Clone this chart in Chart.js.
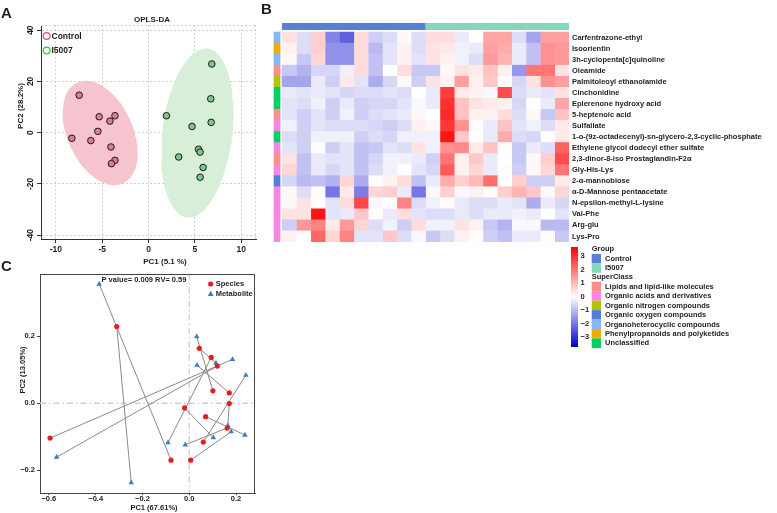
<!DOCTYPE html>
<html>
<head>
<meta charset="utf-8">
<script src="https://cdn.jsdelivr.net/npm/chart.js@4.4.1/dist/chart.umd.min.js"></script>
<style>
  html, body { margin: 0; padding: 0; background: #fff; }
  #wrap { position: relative; width: 777px; height: 513px; overflow: hidden; }
  canvas { position: absolute; }
</style>
</head>
<body>
<div id="wrap">
  <canvas id="chartA" width="262" height="272" style="left:0px;top:0px"></canvas>
  <canvas id="chartB" width="521" height="360" style="left:256px;top:0px"></canvas>
  <canvas id="chartC" width="270" height="257" style="left:0px;top:256px"></canvas>
</div>
<script>
// ---------- panel A: OPLS-DA scores ----------
const controlPC1 = [-7.48, -5.32, -4.16, -3.62, -5.46, -8.27, -6.22, -4.05, -3.62, -4.0];
const controlPC2 = [14.6, 6.2, 4.5, 6.6, 0.5, -2.2, -3.1, -5.6, -10.8, -12.1];
const i5007PC1 = [6.83, 6.72, 6.76, 1.93, 4.70, 3.26, 5.39, 5.57, 5.89, 5.57];
const i5007PC2 = [26.8, 13.2, 4.0, 6.6, 2.4, -9.5, -6.5, -7.6, -13.6, -17.4];

// ---------- panel B: heatmap ----------
const groupNames = ['Control', 'I5007'];
const groupSizes = [10, 10];
const superClassNames = ['Lipids and lipid-like molecules', 'Organic acids and derivatives', 'Organic nitrogen compounds',
  'Organic oxygen compounds', 'Organoheterocyclic compounds', 'Phenylpropanoids and polyketides', 'Unclassified'];
const superClassColors = ['#ff8f86', '#fa84e2', '#b2c300', '#4f7fe0', '#86b6ff', '#f0aa00', '#00d262'];
const metaboliteNames = ['Carfentrazone-ethyl', 'Isoorientin', '3h-cyclopenta[c]quinoline', 'Oleamide',
  'Palmitoleoyl ethanolamide', 'Cinchonidine', 'Eplerenone hydroxy acid', '5-heptenoic acid', 'Sulfallate',
  '1-o-(9z-octadecenyl)-sn-glycero-2,3-cyclic-phosphate', 'Ethylene glycol dodecyl ether sulfate',
  '2,3-dinor-8-iso Prostaglandin-F2\u03b1', 'Gly-His-Lys', '2-\u03b1-mannobiose', '\u03b1-D-Mannose pentaacetate',
  'N-epsilon-methyl-L-lysine', 'Val-Phe', 'Arg-glu', 'Lys-Pro'];
const metaboliteClass = [4, 5, 4, 0, 2, 6, 6, 0, 1, 6, 1, 0, 1, 3, 1, 1, 1, 1, 1];
const heatRows = [
  [0.4, -0.5, 0.7, -1.8, -2.3, 0.5, -0.7, -0.5, 0.1, -0.5, 0.5, 0.5, -0.3, 0.0, 1.3, 1.3, -0.5, -1.3, 1.4, 1.4],
  [0.2, -0.5, 0.7, -1.6, -1.6, 0.5, -1.0, -0.4, 0.2, -0.5, 0.4, 0.3, -0.2, -0.3, 1.4, 1.2, -0.3, -0.9, 1.6, 1.5],
  [0.1, -0.8, 0.6, -1.6, -1.6, 0.5, -0.9, -0.4, 0.2, -0.4, 0.4, 0.2, -0.2, -0.5, 1.5, 1.1, -0.3, -0.9, 1.6, 1.5],
  [-0.8, -1.1, -0.6, -0.6, -0.2, 0.5, -0.9, 0.0, 0.5, -0.8, -0.8, 0.1, 0.4, 0.3, 0.9, 0.2, -1.5, 2.0, 2.0, 0.4],
  [-1.3, -1.3, -0.3, -0.7, 0.3, -0.4, -1.2, -0.6, 0.1, -0.7, 0.4, 0.2, 1.4, 0.2, 0.8, 0.05, -0.6, 0.4, 1.6, 1.4],
  [-0.3, -0.4, -0.3, -0.4, -0.6, -0.5, -0.5, -0.4, -0.5, 0.0, -0.3, 2.8, 0.3, 0.2, -0.1, 2.6, -0.5, -0.3, -0.4, 0.4],
  [-0.4, -0.5, -0.2, -0.7, -0.3, -0.7, -0.6, -0.6, -0.4, -0.1, -0.3, 3.0, 0.9, 0.4, 0.3, 0.2, -0.6, 0.0, -0.3, 1.3],
  [-0.4, -0.7, -0.4, -0.7, -0.2, -0.7, -0.5, -0.4, -0.3, 0.1, 0.0, 3.1, 0.9, 0.2, 0.2, 0.5, -0.5, 0.1, -0.8, 0.9],
  [-0.2, -0.7, -0.4, -0.5, -0.5, -0.5, -0.6, -0.7, -0.5, 0.2, 0.1, 2.9, 1.6, 0.05, -0.3, 0.9, -0.4, -0.2, -0.5, 0.3],
  [-0.5, -0.7, -0.2, -0.2, -0.2, -0.7, -0.5, -0.6, -0.2, -0.2, -0.2, 3.4, 0.8, 0.0, -0.3, 1.2, -0.5, -0.6, 0.0, 0.3],
  [-0.4, -0.7, 0.05, -0.7, -0.4, -0.9, -0.8, -0.4, -0.5, 0.4, -0.2, 1.6, 1.7, 0.3, 0.9, 0.05, -0.8, -0.3, -0.5, 2.3],
  [0.4, -0.9, -0.3, -0.4, -0.4, -0.9, -0.6, -0.2, -0.2, -0.3, -0.7, 2.0, 0.2, 0.8, -0.3, 0.0, -0.8, 0.1, 0.7, 2.6],
  [0.6, -0.9, -0.3, -0.6, -0.4, -0.9, -0.5, -0.2, 0.0, -0.4, -0.6, 2.4, 0.2, 0.6, -0.3, 0.05, -0.7, 0.1, 0.6, 2.0],
  [-0.6, -1.0, -0.9, -1.1, 0.6, -1.2, 0.05, 0.2, 0.5, -0.9, -0.3, 1.2, 0.7, 1.0, 2.1, 0.0, 0.7, -0.7, -0.7, 0.3],
  [0.1, -0.5, 0.05, -2.0, 0.3, -1.9, 0.6, 0.7, -0.3, -2.0, -0.1, 0.7, -0.1, 0.2, 0.05, 0.7, 1.1, 0.8, 0.1, 0.6],
  [0.1, 0.4, 0.0, -0.4, 0.5, 2.7, -0.1, 0.0, 1.8, -0.5, -0.2, 0.05, -0.3, -0.5, -0.5, -0.3, -0.4, -1.2, -0.3, -0.6],
  [0.4, 0.4, 3.4, -0.4, -0.3, 0.8, 0.05, -0.3, 0.5, -0.4, -0.5, -0.5, -0.3, -0.5, -0.3, -0.3, -0.2, -0.3, 0.0, -0.4],
  [-0.7, 1.5, 1.8, 0.3, 1.5, 0.6, -0.5, -0.2, -0.7, 0.5, -0.2, -0.2, 0.4, 0.2, -0.8, -1.1, -0.1, -0.1, -1.0, -1.0],
  [0.2, 0.0, 2.2, 0.6, 1.8, -0.4, -0.4, 0.8, -0.5, -0.1, -0.8, -0.5, 0.2, 0.05, -0.7, -0.9, -0.3, -0.3, 0.05, -0.8]
];
const scaleTicks = [3, 2, 1, 0, -1, -2, -3];

// ---------- panel C: procrustes (sample i = species point i + metabolite point i) ----------
const speciesPC1 = [-0.595, 0.120, -0.078, -0.310, 0.101, 0.043, 0.094, 0.171, 0.171, -0.020, 0.070, 0.162, 0.060, 0.006];
const speciesPC2 = [-0.104, 0.111, -0.170, 0.229, 0.037, 0.164, 0.137, 0.031, -0.001, -0.014, -0.040, -0.074, -0.116, -0.170];
const metabPC1 = [0.185, -0.567, -0.385, -0.248, 0.032, 0.114, -0.091, 0.033, 0.165, 0.103, 0.238, -0.017, 0.242, 0.179];
const metabPC2 = [0.131, -0.161, 0.356, -0.237, 0.199, 0.120, -0.118, 0.114, -0.067, -0.103, -0.095, -0.124, 0.084, -0.085];

const FONT = "'Liberation Sans', Arial, Helvetica, sans-serif";
Chart.defaults.font.family = FONT;
Chart.defaults.color = '#1e1e1e';
Chart.defaults.plugins.legend.display = false;
Chart.defaults.plugins.tooltip.enabled = false;
const font = (size, bold) => (bold ? 'bold ' : '') + size + 'px ' + FONT;

function ellipsePoints(xs, ys, k) {
  const n = xs.length;
  const mx = xs.reduce((a, b) => a + b, 0) / n;
  const my = ys.reduce((a, b) => a + b, 0) / n;
  let sxx = 0, syy = 0, sxy = 0;
  for (let i = 0; i < n; i++) {
    const dx = xs[i] - mx, dy = ys[i] - my;
    sxx += dx * dx; syy += dy * dy; sxy += dx * dy;
  }
  sxx /= n - 1; syy /= n - 1; sxy /= n - 1;
  const l11 = Math.sqrt(sxx), l21 = sxy / l11, l22 = Math.sqrt(syy - l21 * l21);
  const pts = [];
  for (let i = 0; i <= 120; i++) {
    const t = i / 120 * 2 * Math.PI, c = Math.cos(t), s = Math.sin(t);
    pts.push({ x: mx + k * l11 * c, y: my + k * (l21 * c + l22 * s) });
  }
  return pts;
}

function heatColor(v) {
  const t = Math.max(-1, Math.min(1, v / 3.7));
  if (t >= 0) {
    const g = Math.round(255 * (1 - t));
    return 'rgb(255,' + g + ',' + g + ')';
  }
  const s = -t;
  const r = Math.round(255 * (1 - s)), b = Math.round(255 - s * 51);
  return 'rgb(' + r + ',' + r + ',' + b + ')';
}

// ================= A =================
const panelAExtras = {
  id: 'panelAExtras',
  beforeDatasetsDraw(chart) {
    const { ctx, chartArea: a } = chart;
    ctx.save();
    ctx.strokeStyle = '#cfcfcf'; ctx.lineWidth = 1; ctx.setLineDash([2, 2]);
    ctx.beginPath();
    ctx.moveTo(a.left, a.top + 0.5); ctx.lineTo(a.right, a.top + 0.5);
    ctx.moveTo(a.right - 0.5, a.top); ctx.lineTo(a.right - 0.5, a.bottom);
    ctx.stroke();
    ctx.restore();
  },
  afterDraw(chart) {
    const { ctx, scales } = chart;
    ctx.save();
    ctx.fillStyle = '#1e1e1e';
    ctx.textBaseline = 'middle';
    ctx.textAlign = 'center';
    ctx.font = font(8.5, true);
    scales.y.ticks.forEach(t => {
      ctx.save();
      ctx.translate(31, scales.y.getPixelForValue(t.value));
      ctx.rotate(-Math.PI / 2);
      ctx.fillText(String(t.value), 0, 0);
      ctx.restore();
    });
    ctx.font = font(8, true);
    ctx.fillText('OPLS-DA', 152, 20);
    ctx.fillText('PC1 (5.1 %)', 165, 262);
    ctx.save();
    ctx.translate(21, 106); ctx.rotate(-Math.PI / 2);
    ctx.fillText('PC2 (28.2%)', 0, 0);
    ctx.restore();
    // legend
    ctx.textAlign = 'left';
    ctx.font = font(8.5, true);
    [['Control', '#e94b7a', 36], ['I5007', '#3fbe50', 50.5]].forEach(([lab, col, y]) => {
      ctx.beginPath(); ctx.arc(46.7, y, 3.4, 0, 2 * Math.PI);
      ctx.strokeStyle = col; ctx.lineWidth = 1.2; ctx.stroke();
      ctx.fillText(lab, 51.5, y + 0.5);
    });
    ctx.font = font(15, true);
    ctx.fillText('A', 1, 14);
    ctx.restore();
  }
};

new Chart(document.getElementById('chartA'), {
  type: 'scatter',
  data: {
    datasets: [
      { type: 'line', data: ellipsePoints(controlPC1, controlPC2, 2.4477), fill: 'shape', backgroundColor: '#f6c4cf',
        borderColor: 'transparent', borderWidth: 0, pointRadius: 0, tension: 0, order: 3 },
      { type: 'line', data: ellipsePoints(i5007PC1, i5007PC2, 2.4477), fill: 'shape', backgroundColor: '#d7efd9',
        borderColor: 'transparent', borderWidth: 0, pointRadius: 0, tension: 0, order: 3 },
      { data: controlPC1.map((x, i) => ({ x, y: controlPC2[i] })), backgroundColor: '#e27a97', borderColor: '#1a1a1a',
        borderWidth: 1, pointRadius: 3.3, order: 1 },
      { data: i5007PC1.map((x, i) => ({ x, y: i5007PC2[i] })), backgroundColor: '#7dc886', borderColor: '#1a1a1a',
        borderWidth: 1, pointRadius: 3.3, order: 1 }
    ]
  },
  options: {
    responsive: false, animation: false,
    layout: { padding: { top: 25, right: 6, left: 0, bottom: 0 } },
    scales: {
      x: {
        type: 'linear', min: -11.6, max: 11.6,
        ticks: { stepSize: 5, includeBounds: false, font: { size: 8.5, weight: 'bold' }, color: '#1e1e1e', padding: 2 },
        grid: { color: '#cfcfcf', tickColor: '#333', tickLength: 4 },
        border: { color: '#333', width: 1, dash: [2, 2] },
        afterFit(s) { s.height = 33; }
      },
      y: {
        type: 'linear', min: -41.5, max: 42,
        ticks: { stepSize: 20, includeBounds: false, font: { size: 8.5, weight: 'bold' }, color: 'rgba(0,0,0,0)' },
        grid: { color: '#cfcfcf', tickColor: '#333', tickLength: 4 },
        border: { color: '#333', width: 1, dash: [2, 2] },
        afterFit(s) { s.width = 41; }
      }
    }
  },
  plugins: [panelAExtras]
});

// ================= B =================
const nCols = heatRows[0].length;
const heatDatasets = [];
for (let c = 0; c < nCols; c++) {
  heatDatasets.push({
    data: [null].concat(heatRows.map(() => [c, c + 1])),
    backgroundColor: ['rgba(0,0,0,0)'].concat(heatRows.map(r => heatColor(r[c]))),
    grouped: false, barPercentage: 1, categoryPercentage: 1, borderWidth: 0
  });
}
heatDatasets.push({
  data: [null].concat(metaboliteNames.map(() => [-0.56, -0.14])),
  backgroundColor: ['rgba(0,0,0,0)'].concat(metaboliteClass.map(k => superClassColors[k])),
  grouped: false, barPercentage: 1, categoryPercentage: 1, borderWidth: 0
});
const groupColors = ['#5a7ed8', '#85d7b9'];
let gStart = 0;
groupSizes.forEach((n, g) => {
  heatDatasets.push({
    data: [[gStart, gStart + n]].concat(metaboliteNames.map(() => null)),
    backgroundColor: groupColors[g],
    grouped: false, barPercentage: 0.65, categoryPercentage: 1, borderWidth: 0
  });
  gStart += n;
});

const heatLegend = {
  id: 'heatLegend',
  afterDraw(chart) {
    const ctx = chart.ctx;
    ctx.save();
    // colour key
    const top = 247, bot = 347, x0 = 315;
    const grad = ctx.createLinearGradient(0, top, 0, bot);
    for (let i = 0; i <= 20; i++) {
      grad.addColorStop(i / 20, heatColor(3.7 - 7.4 * i / 20));
    }
    ctx.fillStyle = grad;
    ctx.fillRect(x0, top, 7, bot - top);
    ctx.fillStyle = '#1e1e1e';
    ctx.font = font(7.5, true);
    ctx.textAlign = 'left'; ctx.textBaseline = 'middle';
    scaleTicks.forEach(v => {
      ctx.fillText(v < 0 ? '\u2212' + (-v) : String(v), 324.5, 296.5 - 13.5 * v);
    });
    // group / superclass keys
    const bx = 335.7, tx = 349;
    ctx.fillText('Group', bx, 249);
    groupNames.forEach((g, i) => {
      const y = 254 + i * 9.4;
      ctx.fillStyle = groupColors[i]; ctx.fillRect(bx, y, 9.3, 9.4);
      ctx.fillStyle = '#1e1e1e'; ctx.fillText(g, tx, y + 4.9);
    });
    ctx.fillText('SuperClass', bx, 277.3);
    superClassNames.forEach((s, i) => {
      const y = 281.7 + i * 9.47;
      ctx.fillStyle = superClassColors[i]; ctx.fillRect(bx, y, 9.3, 9.47);
      ctx.fillStyle = '#1e1e1e'; ctx.fillText(s, tx, y + 4.9);
    });
    ctx.font = font(15, true);
    ctx.textBaseline = 'alphabetic';
    ctx.fillText('B', 5, 14);
    ctx.restore();
  }
};

new Chart(document.getElementById('chartB'), {
  type: 'bar',
  data: { labels: [''].concat(metaboliteNames), datasets: heatDatasets },
  options: {
    responsive: false, animation: false,
    indexAxis: 'y',
    layout: { padding: { top: 21, left: 16, right: 0, bottom: 118 } },
    scales: {
      x: { type: 'linear', min: -0.7, max: 20, display: false },
      y: {
        position: 'right',
        grid: { display: false, drawTicks: false },
        border: { display: false },
        ticks: { autoSkip: false, padding: 3, font: { size: 7.5, weight: 'bold' }, color: '#1e1e1e' },
        afterFit(s) { s.width = 208; }
      }
    }
  },
  plugins: [heatLegend]
});

// ================= C =================
const fmtTick = v => { const s = Number(v).toFixed(1); return s.replace('-', '\u2212'); };
const panelCExtras = {
  id: 'panelCExtras',
  beforeDatasetsDraw(chart) {
    const { ctx, chartArea: a, scales } = chart;
    ctx.save();
    ctx.strokeStyle = '#cfcfcf'; ctx.lineWidth = 1.3; ctx.setLineDash([6, 3, 1.5, 3]);
    const x0 = scales.x.getPixelForValue(0), y0 = scales.y.getPixelForValue(0);
    ctx.beginPath();
    ctx.moveTo(x0, a.top); ctx.lineTo(x0, a.bottom);
    ctx.moveTo(a.left, y0); ctx.lineTo(a.right, y0);
    ctx.stroke();
    ctx.setLineDash([]);
    ctx.strokeStyle = '#444'; ctx.lineWidth = 1;
    ctx.beginPath();
    ctx.moveTo(a.left, a.top + 0.5); ctx.lineTo(a.right - 0.5, a.top + 0.5); ctx.lineTo(a.right - 0.5, a.bottom);
    ctx.stroke();
    ctx.restore();
  },
  afterDraw(chart) {
    const ctx = chart.ctx;
    ctx.save();
    ctx.fillStyle = '#1e1e1e';
    ctx.textBaseline = 'middle';
    ctx.textAlign = 'center';
    ctx.font = font(7.5, true);
    ctx.fillText('P value= 0.009 RV= 0.59', 144, 23.5);
    ctx.font = font(7.5, true);
    ctx.fillText('PC1 (67.61%)', 154, 251.5);
    ctx.save();
    ctx.translate(22.5, 114); ctx.rotate(-Math.PI / 2);
    ctx.fillText('PC2 (13.05%)', 0, 0);
    ctx.restore();
    // legend
    ctx.textAlign = 'left';
    ctx.font = font(7.5, true);
    ctx.fillStyle = '#e3201b';
    ctx.beginPath(); ctx.arc(210.7, 28, 2.6, 0, 2 * Math.PI); ctx.fill();
    ctx.fillStyle = '#3a7dc0';
    ctx.beginPath(); ctx.moveTo(210.7, 34.8); ctx.lineTo(213.6, 40); ctx.lineTo(207.8, 40); ctx.closePath(); ctx.fill();
    ctx.fillStyle = '#1e1e1e';
    ctx.fillText('Species', 215.7, 28.3);
    ctx.fillText('Metabolite', 215.7, 37.8);
    ctx.font = font(15, true);
    ctx.textBaseline = 'alphabetic';
    ctx.fillText('C', 1, 15);
    ctx.restore();
  }
};

const pairDatasets = speciesPC1.map((x, i) => ({
  type: 'line',
  data: [{ x, y: speciesPC2[i] }, { x: metabPC1[i], y: metabPC2[i] }],
  borderColor: '#8a8a8a', borderWidth: 1, pointRadius: 0, fill: false, tension: 0, order: 3
}));

new Chart(document.getElementById('chartC'), {
  type: 'scatter',
  data: {
    datasets: pairDatasets.concat([
      { data: speciesPC1.map((x, i) => ({ x, y: speciesPC2[i] })), pointStyle: 'circle', pointRadius: 2.6,
        backgroundColor: '#e3201b', borderWidth: 0, order: 1 },
      { data: metabPC1.map((x, i) => ({ x, y: metabPC2[i] })), pointStyle: 'triangle', pointRadius: 3.2,
        backgroundColor: '#3a7dc0', borderWidth: 0, order: 1 }
    ])
  },
  options: {
    responsive: false, animation: false,
    layout: { padding: { top: 18, right: 15, left: 0, bottom: 0 } },
    scales: {
      x: {
        type: 'linear', min: -0.638, max: 0.281,
        ticks: { stepSize: 0.2, includeBounds: false, callback: fmtTick,
                 font: { size: 7.5, weight: 'bold', lineHeight: 1 }, color: '#1e1e1e', padding: 0 },
        grid: { drawOnChartArea: false, tickColor: '#444', tickLength: 2 },
        border: { color: '#444', width: 1 },
        afterFit(s) { s.height = 20; }
      },
      y: {
        type: 'linear', min: -0.268, max: 0.386,
        ticks: { stepSize: 0.2, includeBounds: false, callback: fmtTick, font: { size: 7.5, weight: 'bold' },
                 color: '#1e1e1e', padding: 2 },
        grid: { drawOnChartArea: false, tickColor: '#444', tickLength: 3 },
        border: { color: '#444', width: 1 },
        afterFit(s) { s.width = 40; }
      }
    }
  },
  plugins: [panelCExtras]
});
</script>
</body>
</html>
